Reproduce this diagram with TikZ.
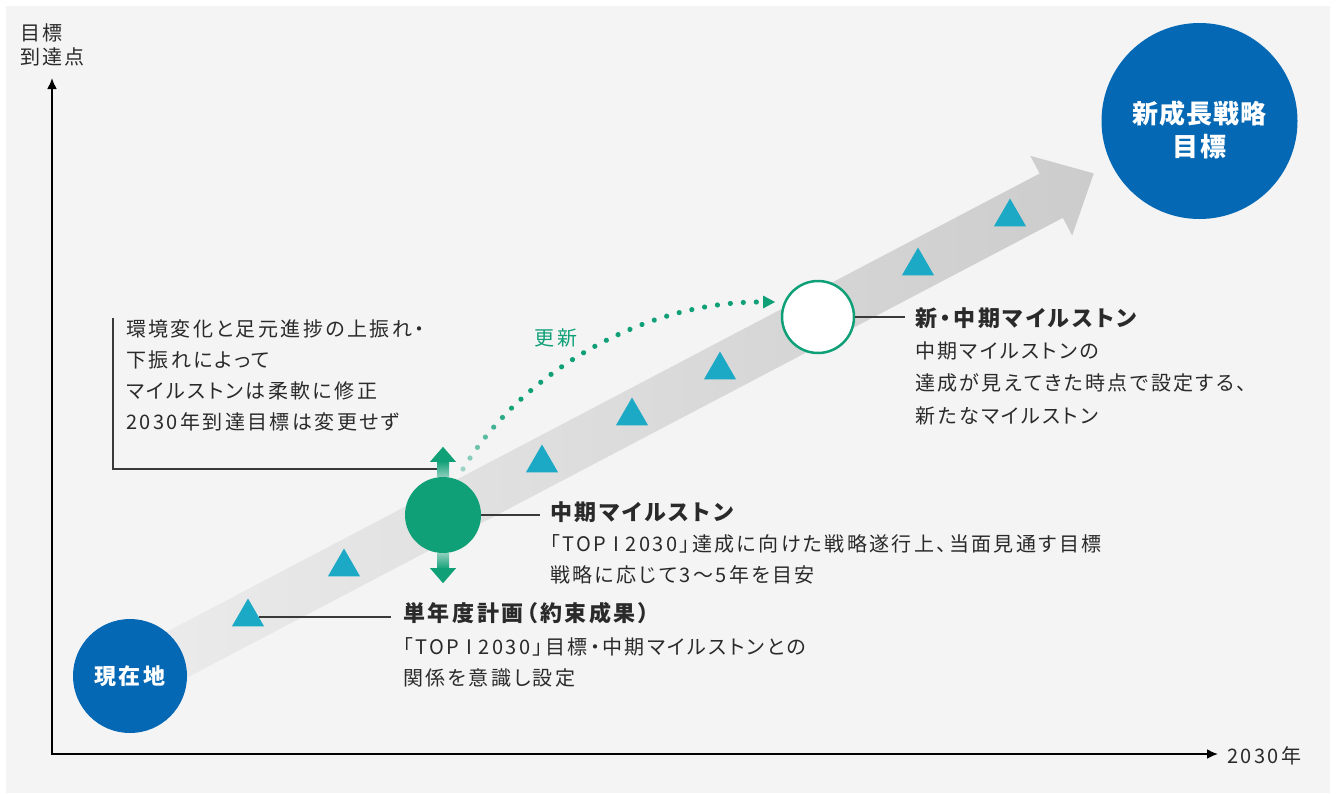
\documentclass[tikz,border=0pt]{standalone}
\usepackage{fontspec}
\setmainfont{Noto Sans CJK JP}[RawFeature=+palt, LetterSpace=12]
\usetikzlibrary{arrows.meta,shapes.geometric,calc,decorations.markings}
\definecolor{panel}{HTML}{F4F4F4}
\definecolor{brandblue}{HTML}{0568B4}
\definecolor{brandgreen}{HTML}{0FA077}
\definecolor{tealtri}{HTML}{1BA9C5}
\definecolor{txt}{HTML}{2A2A2A}
\definecolor{leadgray}{HTML}{3A3A3A}
\definecolor{arrowlight}{HTML}{ECECEC}
\definecolor{arrowdark}{HTML}{CCCCCC}
\begin{document}
\begin{tikzpicture}[x=1pt,y=-1pt,
  bodytxt/.style={font=\fontsize{20}{31}\selectfont, text=txt, align=left, anchor=west, inner sep=0pt},
  headtxt/.style={font=\fontsize{22}{28}\selectfont\bfseries, text=txt, anchor=west, inner sep=0pt},
  lbl/.style={font=\fontsize{20}{24}\selectfont, text=txt, inner sep=0pt},
  tri/.style={regular polygon, regular polygon sides=3, fill=tealtri, minimum size=37pt, inner sep=0pt},
  bluedot/.style={circle, fill=brandblue, inner sep=0pt},
  lead/.style={draw=leadgray, line width=1.4pt},
  axisline/.style={draw=black, line width=2pt},
]
\useasboundingbox (0,0) rectangle (1338,793);
\fill[white] (0,0) rectangle (1338,793);
\fill[panel] (6,6) rectangle (1330,793);

% axes
\coordinate (origin) at (52,754);
\coordinate (ytop) at (52,78);
\coordinate (xend) at (1218,754);
\draw[axisline,{Latex[length=11pt,width=10pt]}-{Latex[length=11pt,width=10pt]}] (ytop) -- (origin) -- (xend);
\node[lbl, anchor=west, align=left] (ylab) at (20,45) {目標\\到達点};
\node[lbl, anchor=west] (xlab) at (1227,756) {2030年};

% big gray arrow
\coordinate (mc) at (443,515);
\begin{scope}[shift={(mc)}, rotate=27.7]
\shade[left color=arrowlight, right color=arrowdark]
  (-350,-25) -- (687,-25) -- (687,-45) -- (735,0) -- (687,45) -- (687,25) -- (-350,25) -- cycle;
\end{scope}

% triangles
\node[tri] (t1) at (248,617) {};
\node[tri] (t2) at (344,567) {};
\node[tri] (t3) at (542,463) {};
\node[tri] (t4) at (632,416) {};
\node[tri] (t5) at (720,370) {};
\node[tri] (t6) at (918,266) {};
\node[tri] (t7) at (1010,217) {};

% circles
\node[bluedot, minimum size=114pt, text=white, font=\fontsize{22}{26}\selectfont\bfseries] (now) at (130,676) {現在地};
\node[bluedot, minimum size=196pt] (goal) at (1199.5,121) {};
\node[font=\fontsize{26}{33}\selectfont\bfseries\addfontfeatures{LetterSpace=4}, text=white, align=center, inner sep=0pt] (goaltxt) at ($(goal.center)+(0,9)$) {新成長戦略\\目標};
\node[circle, fill=brandgreen, minimum size=76pt, inner sep=0pt] (mid) at (mc) {};
\node[circle, fill=white, draw=brandgreen, line width=2.5pt, minimum size=72pt, inner sep=0pt] (new) at (818,317) {};

% up / down arrows
\shade[top color=brandgreen, bottom color=brandgreen!45!panel] ($(mid.north)+(-6,0)$) rectangle ($(mid.north)+(6,-16)$);
\fill[brandgreen] ($(mid.north)+(-13,-15)$) -- ($(mid.north)+(0,-30)$) -- ($(mid.north)+(13,-15)$) -- cycle;
\shade[top color=brandgreen!45!panel, bottom color=brandgreen] ($(mid.south)+(-6,0)$) rectangle ($(mid.south)+(6,16)$);
\fill[brandgreen] ($(mid.south)+(-13,15)$) -- ($(mid.south)+(0,30)$) -- ($(mid.south)+(13,15)$) -- cycle;

% dotted update curve
\coordinate (updS) at ($(mid.center)+(20,-46)$);
\coordinate (updTip) at ($(new.center)+(-43,-15)$);
\coordinate (updE) at ($(updTip)+(-15,0)$);
\path[postaction={decorate}, decoration={markings,
  mark=between positions 0 and 1 step 13pt with {%
    \pgfmathtruncatemacro\pc{min(100,28+10*\pgfkeysvalueof{/pgf/decoration/mark info/sequence number})}%
    \fill[brandgreen!\pc!panel] (0,0) circle (2.6pt);}}]
  (updS) .. controls (520,375) and (640,302) .. (updE);
\fill[brandgreen] (updTip) -- ++(-12,-6.5) -- ++(0,13) -- cycle;
\node[font=\fontsize{20}{24}\selectfont, text=brandgreen, inner sep=0pt] (updlbl) at (556,338) {更新};

% text blocks
\node[bodytxt] (envtxt) at (126,375) {環境変化と足元進捗の上振れ・\\下振れによって\\マイルストンは柔軟に修正\\2030年到達目標は変更せず};
\node[headtxt] (hdB) at (550,512) {中期マイルストン};
\node[bodytxt] (bdB) at (550,559.5) {「TOP I 2030」達成に向けた戦略遂行上、当面見通す目標\\戦略に応じて3〜5年を目安};
\node[headtxt] (hdC) at (403,613) {単年度計画（約束成果）};
\node[bodytxt] (bdC) at (403,662) {「TOP I 2030」目標・中期マイルストンとの\\関係を意識し設定};
\node[headtxt] (hdD) at (915,318) {新・中期マイルストン};
\node[bodytxt, font=\fontsize{20}{32.5}\selectfont] (bdD) at (915,383) {中期マイルストンの\\達成が見えてきた時点で設定する、\\新たなマイルストン};

% leader lines
\coordinate (boxTop) at (113,318);
\coordinate (boxEnd) at ($(mid.north)+(-6,-8)$);
\draw[lead] (boxTop) |- (boxEnd);
\draw[lead, shorten >=10pt] (mid.east) -- (mid.east -| hdB.west);
\draw[lead, shorten >=12pt] (t1.east) -- (t1.east -| hdC.west);
\draw[lead, shorten >=10pt] (new.east) -- (new.east -| hdD.west);
\end{tikzpicture}
\end{document}
